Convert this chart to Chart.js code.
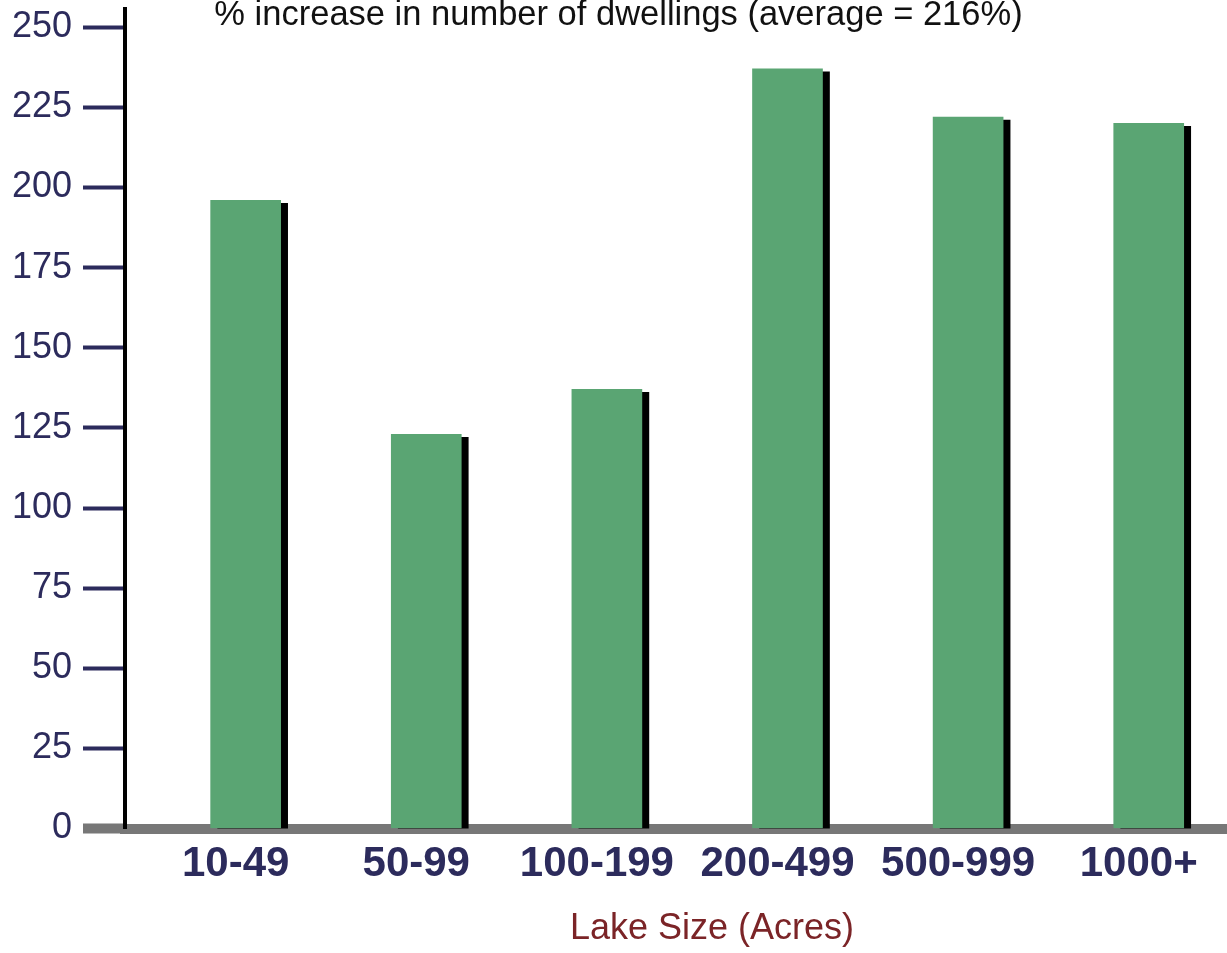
<!DOCTYPE html>
<html>
<head>
<meta charset="utf-8">
<title>Dwelling increase by lake size</title>
<script src="https://cdn.jsdelivr.net/npm/chart.js@4.4.1/dist/chart.umd.min.js"></script>
<style>
    html, body { margin: 0; padding: 0; background: #fff; overflow: hidden; }
    /* the plot runs on past the right edge of the window */
    #wrap { position: relative; width: 1299px; height: 953px; }
</style>
</head>
<body>
<div id="wrap"><canvas id="myChart"></canvas></div>
<script>
// Lake size classes and % increase in dwellings for each class
const sizeLabels = ['10-49', '50-99', '100-199', '200-499', '500-999', '1000+'];
const pctIncrease = [196, 123, 137, 237, 222, 220];
const yTicks = [0, 25, 50, 75, 100, 125, 150, 175, 200, 225, 250];

const navy = '#2c2b5c';
const helv = "'Liberation Sans', Arial, Helvetica, sans-serif";

// Black drop shadow to the lower right of each bar
const barShadow = {
    id: 'barShadow',
    beforeDatasetsDraw(chart) {
        const c = chart.ctx;
        c.save();
        c.shadowColor = '#000';
        c.shadowBlur = 0;
        c.shadowOffsetX = 7;
        c.shadowOffsetY = 3;
    },
    afterDatasetsDraw(chart) {
        chart.ctx.restore();
    }
};

const ctx = document.getElementById('myChart');

new Chart(ctx, {
    type: 'bar',
    data: {
        datasets: [{
            data: sizeLabels.map((label, i) => ({ x: i, y: pctIncrease[i] })),
            backgroundColor: '#5aa573',
            barThickness: 70
        }]
    },
    plugins: [barShadow],
    options: {
        responsive: true,
        maintainAspectRatio: false,
        animation: false,
        layout: { padding: { left: -62, right: 0, top: 0, bottom: 0 } },
        plugins: {
            legend: { display: false },
            tooltip: { enabled: false },
            title: {
                display: true,
                text: '% increase in number of dwellings (average = 216%)',
                color: '#111',
                font: { family: helv, size: 34.5, weight: 'normal', lineHeight: 1 },
                padding: { top: -2, bottom: -23.5 }
            }
        },
        scales: {
            x: {
                type: 'linear',
                offset: false,
                min: -0.668,
                max: 5.832,
                z: 1,
                afterFit(scale) {
                    scale.height = 124.5;
                    scale.paddingLeft = 0;
                    scale.paddingRight = 0;
                },
                grid: { display: false, drawTicks: false },
                border: { display: true, color: '#777777', width: 10 },
                ticks: {
                    stepSize: 1,
                    autoSkip: false,
                    maxRotation: 0,
                    includeBounds: false,
                    padding: 11,
                    labelOffset: -10,
                    color: navy,
                    font: { family: helv, size: 42, weight: 'bold' },
                    callback: (value) => sizeLabels[value] ?? ''
                },
                title: {
                    display: true,
                    text: 'Lake Size (Acres)',
                    color: '#7b2427',
                    font: { family: helv, size: 36, weight: 'normal' },
                    padding: { top: 0, bottom: 2 }
                }
            },
            y: {
                min: 0,
                max: 255.7,
                afterFit(scale) {
                    scale.width = 187;
                    scale.paddingTop = 0;
                    scale.paddingBottom = 0;
                },
                afterBuildTicks(scale) { scale.ticks = yTicks.map(v => ({ value: v })); },
                grid: {
                    drawOnChartArea: false,
                    tickLength: 42,
                    tickColor: (c) => c.tick && c.tick.value === 0 ? '#777777' : navy,
                    tickWidth: (c) => c.tick && c.tick.value === 0 ? 10 : 4
                },
                border: { display: true, color: '#000', width: 4 },
                ticks: {
                    padding: 11,
                    color: navy,
                    font: { family: helv, size: 36 }
                }
            }
        }
    }
});
</script>
</body>
</html>
